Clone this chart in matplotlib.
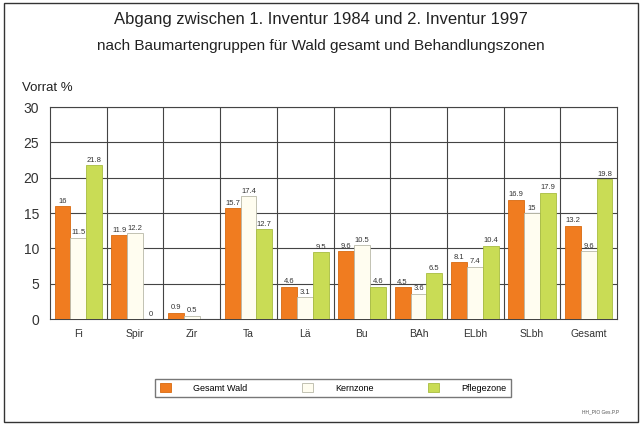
import numpy as np
import matplotlib
matplotlib.use("Agg")
import matplotlib.pyplot as plt
from matplotlib.patches import Rectangle

plt.rcParams['font.family'] = ['Liberation Sans', 'DejaVu Sans']

# data
categories = ["Fi", "Spir", "Zir", "Ta", "Lä", "Bu", "BAh", "ELbh", "SLbh", "Gesamt"]
gesamt_wald = [16, 11.9, 0.9, 15.7, 4.6, 9.6, 4.5, 8.1, 16.9, 13.2]
kernzone = [11.5, 12.2, 0.5, 17.4, 3.1, 10.5, 3.6, 7.4, 15.0, 9.6]
pflegezone = [21.8, 0, np.nan, 12.7, 9.5, 4.6, 6.5, 10.4, 17.9, 19.8]
series_names = ["Gesamt Wald", "Kernzone", "Pflegezone"]

colors = ["#F07C20", "#FFFDF0", "#C9DC55"]
edges = ["#D86A10", "#B8B8A8", "#A8BC40"]

fig = plt.figure(figsize=(6.42, 4.25), dpi=100)
ax = fig.add_axes([0.078, 0.249, 0.883, 0.499])

x = np.arange(len(categories))
w = 0.28
handles = []
for i, (vals, name) in enumerate(zip([gesamt_wald, kernzone, pflegezone], series_names)):
    pos = x + (i - 1) * w
    bars = ax.bar(pos, vals, w, color=colors[i], edgecolor=edges[i], linewidth=0.6,
                  label=name, zorder=3)
    handles.append(bars)
    for p, v in zip(pos, vals):
        if np.isnan(v):
            continue
        ax.text(p, v + 0.2, "%g" % v, ha="center", va="bottom", fontsize=5.5,
                color="#333333", zorder=4)

ax.set_xlim(-0.5, len(categories) - 0.5)
ax.set_ylim(0, 30)
ax.set_yticks(range(0, 31, 5))
ax.set_xticks(x)
ax.set_xticklabels(categories, fontsize=7.5)
ax.tick_params(axis="y", labelsize=10, length=0, pad=8, labelcolor="#333333")
ax.tick_params(axis="x", length=0, pad=7, labelcolor="#333333")

# grid: horizontal at ticks, vertical between categories
for yv in range(5, 31, 5):
    ax.axhline(yv, color="#444444", linewidth=0.8, zorder=1)
for xv in np.arange(0.5, len(categories) - 0.5, 1):
    ax.axvline(xv, color="#444444", linewidth=0.8, zorder=1)
for s in ax.spines.values():
    s.set_color("#444444")
    s.set_linewidth(0.8)

fig.text(0.5, 0.953, "Abgang zwischen 1. Inventur 1984 und 2. Inventur 1997",
         ha="center", va="center", fontsize=12, color="#222222")
fig.text(0.5, 0.892, "nach Baumartengruppen für Wald gesamt und Behandlungszonen",
         ha="center", va="center", fontsize=11, color="#222222")
fig.text(0.034, 0.792, "Vorrat %", ha="left", va="center", fontsize=9.5, color="#222222")

leg = fig.legend(handles=handles, labels=series_names, loc="center",
                 bbox_to_anchor=(0.519, 0.087), ncol=3, fontsize=6.5,
                 frameon=True, fancybox=False, edgecolor="#555555",
                 columnspacing=6, handlelength=1.2, handleheight=1.2,
                 borderpad=0.5, handletextpad=2.5)
leg.get_frame().set_linewidth(1.0)

fig.text(0.935, 0.03, "HH_PIO Ges.P.P", ha="center", va="center", fontsize=3.5,
         color="#555555")

fig.patches.append(Rectangle((0.006, 0.006), 0.988, 0.988, transform=fig.transFigure,
                             fill=False, edgecolor="#333333", linewidth=1.0))

fig.savefig("out.png", dpi=100)
